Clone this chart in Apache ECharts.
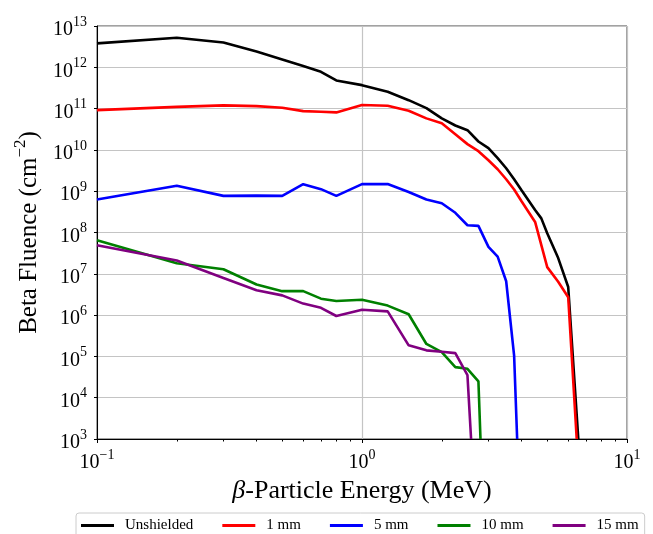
<!DOCTYPE html>
<html>
<head>
<meta charset="utf-8">
<script src="https://cdn.jsdelivr.net/npm/echarts@6/dist/echarts.min.js"></script>
<style>
  html, body { margin: 0; padding: 0; background: #ffffff; }
  #chart { width: 653px; height: 534px; }
</style>
</head>
<body>
<div id="chart"></div>
<script>
// Beta fluence spectra behind different shield thicknesses (energy in MeV, fluence in cm^-2)
const seriesNames = ['Unshielded', '1 mm', '5 mm', '10 mm', '15 mm'];
const seriesColors = ['#000000', '#ff0000', '#0000ff', '#008000', '#800080'];

const unshieldedEnergy = [0.1, 0.2, 0.3, 0.4, 0.5, 0.6, 0.7, 0.8, 1.0, 1.25, 1.5, 1.75, 2.0, 2.25, 2.5, 2.75, 3.0, 3.25, 3.5, 3.75, 4.0, 4.5, 4.75, 5.0, 5.5, 6.0, 6.55];
const unshieldedFluence = [3.8e12, 5.2e12, 4.0e12, 2.4e12, 1.55e12, 1.07e12, 7.8e11, 4.8e11, 3.7e11, 2.55e11, 1.6e11, 1.03e11, 5.8e10, 3.9e10, 3.0e10, 1.6e10, 1.1e10, 6.3e9, 3.6e9, 1.95e9, 1.05e9, 3.5e8, 2.2e8, 9.6e7, 2.4e7, 4.8e6, 1e3];

const mm1Energy = [0.1, 0.2, 0.3, 0.4, 0.5, 0.6, 0.7, 0.8, 1.0, 1.25, 1.5, 1.75, 2.0, 2.25, 2.5, 2.75, 3.0, 3.25, 3.5, 3.75, 4.0, 4.5, 5.0, 5.5, 6.0, 6.46];
const mm1Fluence = [9.2e10, 1.1e11, 1.2e11, 1.15e11, 1.05e11, 8.7e10, 8.4e10, 8.1e10, 1.22e11, 1.17e11, 8.85e10, 5.8e10, 4.4e10, 2.4e10, 1.38e10, 9.3e9, 5.6e9, 3.4e9, 1.95e9, 1.1e9, 5.7e8, 1.8e8, 1.45e7, 6.4e6, 2.7e6, 1e3];

const mm5Energy = [0.1, 0.2, 0.3, 0.4, 0.5, 0.6, 0.7, 0.8, 1.0, 1.25, 1.5, 1.75, 2.0, 2.25, 2.5, 2.75, 3.0, 3.25, 3.5, 3.75, 3.85];
const mm5Fluence = [6.3e8, 1.35e9, 7.7e8, 7.8e8, 7.7e8, 1.48e9, 1.12e9, 7.7e8, 1.48e9, 1.5e9, 9.6e8, 6.3e8, 5.1e8, 3.0e8, 1.5e8, 1.45e8, 4.5e7, 2.6e7, 6.6e6, 1.05e5, 1e3];

const mm10Energy = [0.1, 0.2, 0.3, 0.4, 0.5, 0.6, 0.7, 0.8, 1.0, 1.25, 1.5, 1.75, 2.0, 2.25, 2.5, 2.75, 2.8];
const mm10Fluence = [6.5e7, 1.8e7, 1.29e7, 5.5e6, 3.8e6, 3.8e6, 2.5e6, 2.2e6, 2.35e6, 1.7e6, 1.05e6, 2.0e5, 1.27e5, 5.5e4, 5.0e4, 2.5e4, 1e3];

const mm15Energy = [0.1, 0.2, 0.3, 0.4, 0.5, 0.6, 0.7, 0.8, 1.0, 1.25, 1.5, 1.75, 2.0, 2.25, 2.5, 2.58];
const mm15Fluence = [4.9e7, 2.1e7, 7.9e6, 4.0e6, 3.0e6, 1.9e6, 1.5e6, 9.5e5, 1.35e6, 1.23e6, 1.85e5, 1.4e5, 1.3e5, 1.2e5, 3.5e4, 1e3];

// Minor tick positions on the energy axis
const energyMinorTicks = [0.2, 0.3, 0.4, 0.5, 0.6, 0.7, 0.8, 0.9, 2, 3, 4, 5, 6, 7, 8, 9];

const energies = [unshieldedEnergy, mm1Energy, mm5Energy, mm10Energy, mm15Energy];
const fluences = [unshieldedFluence, mm1Fluence, mm5Fluence, mm10Fluence, mm15Fluence];

const FONT = "'Liberation Serif', 'Times New Roman', serif";

function powerLabel(v) {
  const e = Math.round(Math.log10(v));
  const exp = e < 0 ? '\u2212' + (-e) : String(e);
  return '{b|10}{s|' + exp + '}';
}

const tickRich = {
  b: { fontFamily: FONT, fontSize: 20, color: '#000' },
  s: { fontFamily: FONT, fontSize: 14, color: '#000', padding: [0, 0, 16, 0] }
};

const chart = echarts.init(document.getElementById('chart'), null, { renderer: 'canvas' });

const option = {
  animation: false,
  backgroundColor: '#ffffff',
  grid: {
    left: 97, top: 26, right: 26, bottom: 95,
    show: true, borderColor: '#444444', borderWidth: 1, backgroundColor: 'transparent'
  },
  legend: {
    left: 76, top: 513,
    padding: [5, 6, 20, 5],
    itemGap: 29, itemWidth: 33, itemHeight: 3,
    icon: 'rect',
    borderColor: '#cccccc', borderWidth: 1, borderRadius: 3,
    textStyle: { fontFamily: FONT, fontSize: 15, color: '#000', padding: [0, 0, 0, 6] },
    data: seriesNames
  },
  xAxis: [
    {
      type: 'log', logBase: 10, min: 0.1, max: 10, interval: 1,
      name: '{i|\u03b2}{t|-Particle Energy (MeV)}',
      nameLocation: 'middle', nameGap: 36,
      nameTextStyle: {
        rich: {
          i: { fontFamily: FONT, fontSize: 26, fontStyle: 'italic', color: '#000' },
          t: { fontFamily: FONT, fontSize: 26, color: '#000' }
        }
      },
      axisLine: { show: true, lineStyle: { color: '#000', width: 1 } },
      axisTick: { show: true, length: 4, inside: false, lineStyle: { color: '#000' } },
      axisLabel: { formatter: powerLabel, rich: tickRich, margin: 9 },
      splitLine: { show: true, lineStyle: { color: '#c4c4c4', width: 1.2 } }
    },
    {
      type: 'log', logBase: 10, min: 0.1, max: 10, position: 'bottom',
      axisLine: { show: false },
      axisLabel: { show: false },
      splitLine: { show: false },
      axisTick: { show: true, length: 2.5, customValues: energyMinorTicks, lineStyle: { color: '#000' } }
    }
  ],
  yAxis: {
    type: 'log', logBase: 10, min: 1e3, max: 1e13, interval: 1,
    name: '{t|Beta Fluence (cm}{s|\u22122}{t|)}',
    nameLocation: 'middle', nameGap: 49,
    nameTextStyle: {
      rich: {
        t: { fontFamily: FONT, fontSize: 25, color: '#000' },
        s: { fontFamily: FONT, fontSize: 17, color: '#000', padding: [0, 0, 19, 0] }
      }
    },
    axisLine: { show: true, lineStyle: { color: '#000', width: 1 } },
    axisTick: { show: true, length: 3, lineStyle: { color: '#000' } },
    axisLabel: { formatter: powerLabel, rich: tickRich, margin: 10, padding: [8, 0, 0, 0] },
    splitLine: { show: true, lineStyle: { color: '#c4c4c4', width: 1.2 } }
  },
  series: seriesNames.map((name, i) => ({
    name: name,
    type: 'line',
    xAxisIndex: 0,
    showSymbol: false,
    symbol: 'none',
    color: seriesColors[i],
    lineStyle: { color: seriesColors[i], width: 2.6 },
    data: energies[i].map((e, k) => [e, fluences[i][k]])
  }))
};

chart.setOption(option);
</script>
</body>
</html>
